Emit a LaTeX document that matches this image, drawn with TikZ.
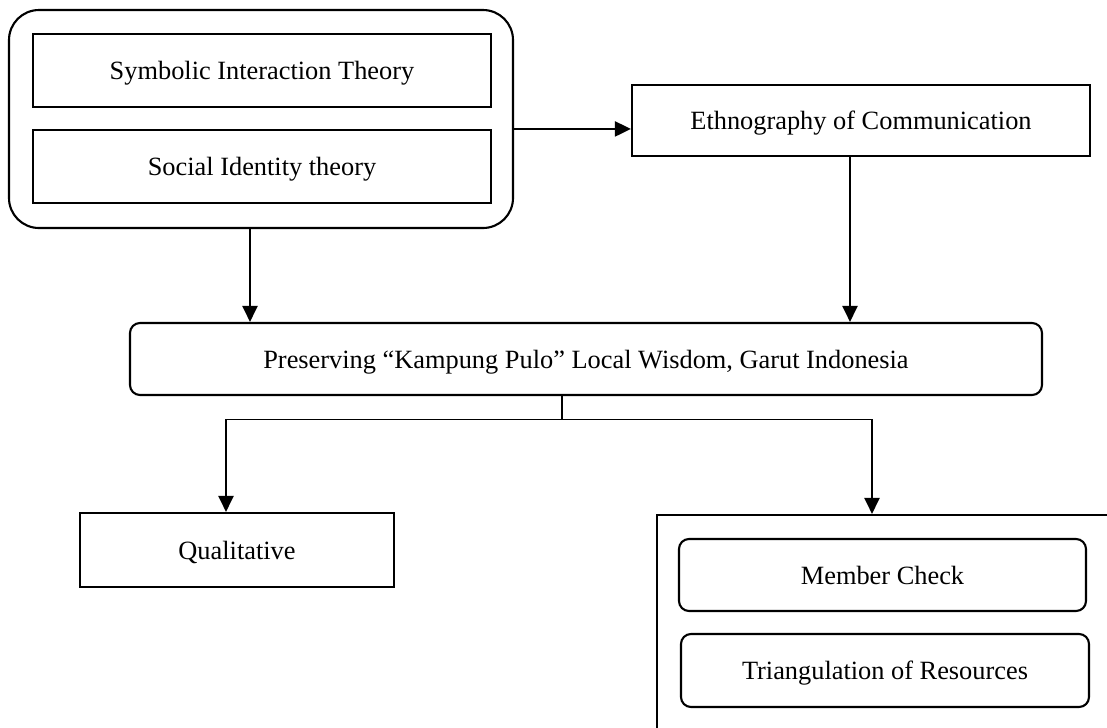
\documentclass[tikz,border=0pt]{standalone}
\usepackage{fontspec}
\setmainfont{Liberation Serif}
\usetikzlibrary{arrows.meta,positioning,calc}

\begin{document}
\begin{tikzpicture}[
    font=\fontsize{15}{18}\selectfont,
    box/.style={draw,line width=1.2pt,inner sep=0pt,align=center,text depth=0pt},
    rbox/.style={box,rounded corners=0.2cm},
    arr/.style={-{Triangle[length=0.32cm,width=0.3cm]},line width=1.2pt},
    branch/.style={line width=0.6pt}]

    \useasboundingbox (0,0) rectangle (22.14,-14.54);
    \clip (0,0) rectangle (22.14,-14.54);

    % ════════ theories (top left) ════════
    \node[rbox,rounded corners=0.6cm,minimum width=10.08cm,minimum height=4.36cm]
      (theory) at (5.22,-2.38) {};
    \node[box,minimum width=9.16cm,minimum height=1.46cm]
      (sit) at (5.24,-1.41) {Symbolic Interaction Theory};
    \node[box,minimum width=9.16cm,minimum height=1.46cm]
      (sid) at (5.24,-3.33) {Social Identity theory};

    % ════════ method (top right) ════════
    \node[box,minimum width=9.16cm,minimum height=1.42cm]
      (eth) at (17.22,-2.41) {Ethnography of Communication};
    \draw[arr] (sid.north -| theory.east) -- (sid.north -| eth.west);

    % ════════ focus ════════
    \node[rbox,minimum width=18.24cm,minimum height=1.44cm]
      (focus) at (11.72,-7.18) {Preserving “Kampung Pulo” Local Wisdom, Garut Indonesia};
    \path (theory.south) ++(-0.22,0) coordinate (t1);
    \path (eth.south) ++(-0.22,0) coordinate (e1);
    \draw[arr] (t1) -- (t1 |- focus.north);
    \draw[arr] (e1) -- (e1 |- focus.north);

    % ════════ approach + validity ════════
    \node[box,minimum width=6.28cm,minimum height=1.48cm]
      (qual) at (4.74,-11.0) {Qualitative};
    \node[box,minimum width=9.46cm,minimum height=4.6cm]
      (valid) at (17.87,-12.6) {};
    \node[rbox,minimum width=8.14cm,minimum height=1.44cm]
      (check) at (17.65,-11.5) {Member Check};
    \node[rbox,minimum width=8.16cm,minimum height=1.46cm]
      (triang) at (17.70,-13.41) {Triangulation of Resources};

    % fork under the focus box
    \path (focus.south) ++(-0.48,-0.46) coordinate (fork);
    \path (qual.north) ++(-0.22,0) coordinate (q1);
    \path (valid.north) ++(-0.43,0) coordinate (v1);
    \draw[branch] (focus.south -| fork) -- (fork);
    \draw[branch] (fork -| q1) -- (fork -| v1);
    \draw[arr] (fork -| q1) -- (q1);
    \draw[arr] (fork -| v1) -- (v1);

\end{tikzpicture}
\end{document}
